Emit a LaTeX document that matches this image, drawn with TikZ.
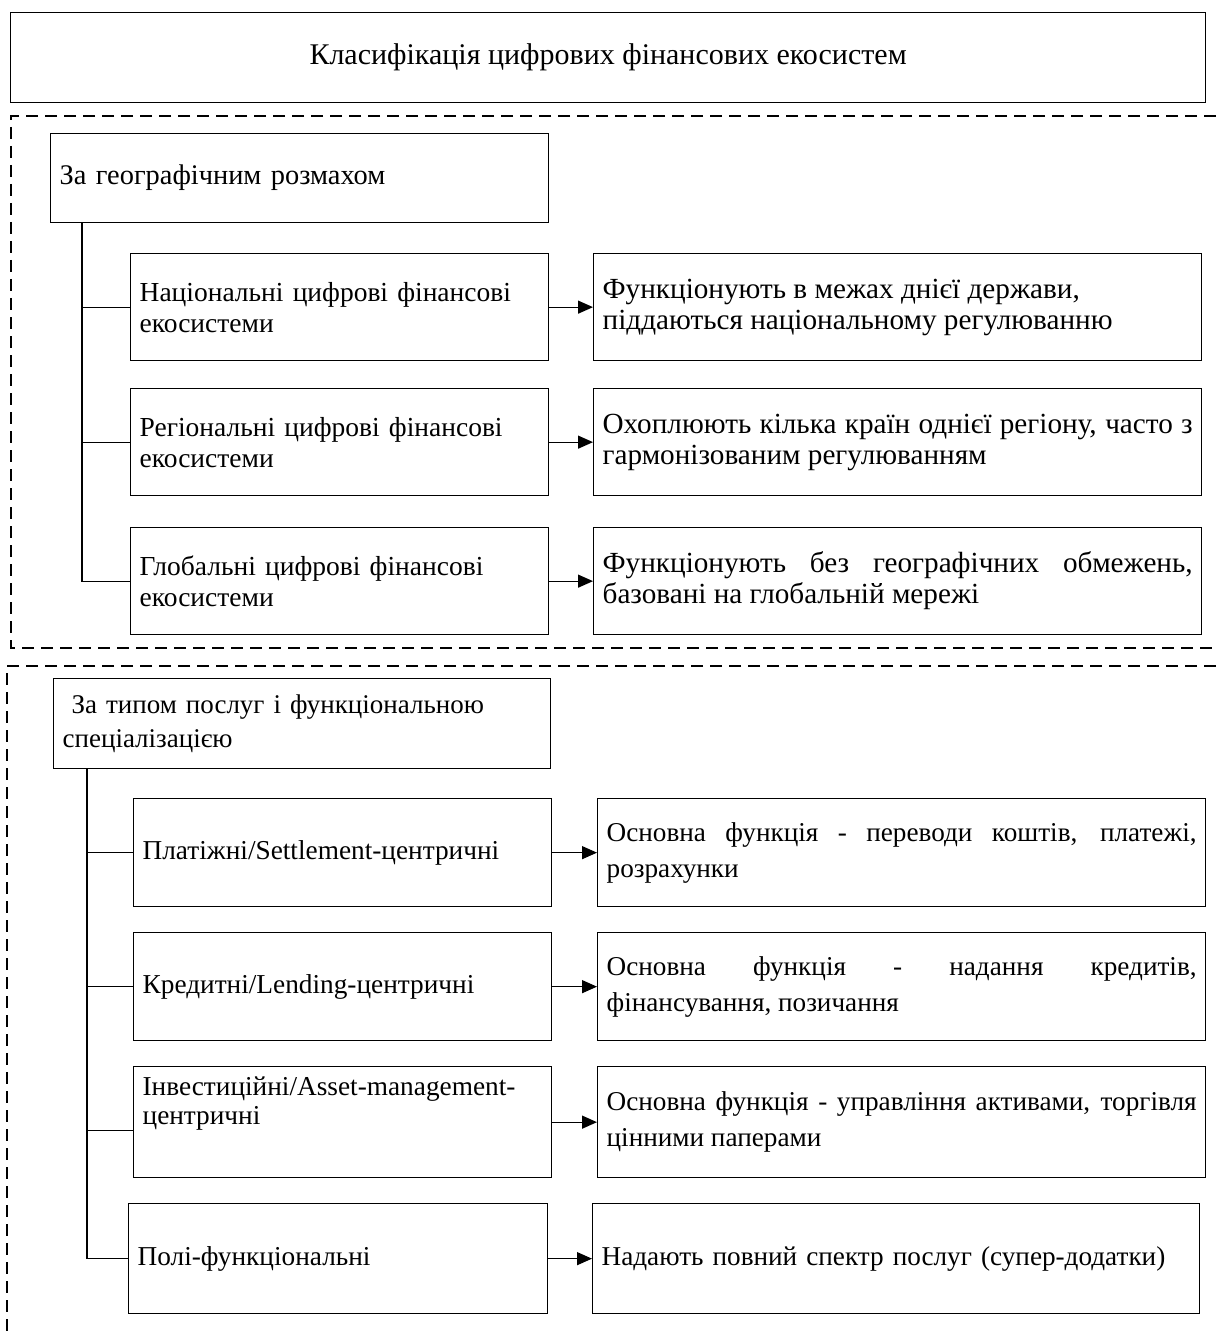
\documentclass[tikz,border=0pt]{standalone}
\usepackage{fontspec}
\setmainfont{Liberation Serif}
\usetikzlibrary{arrows.meta,calc}
\newcommand\ftitle{\fontsize{30}{34}\selectfont}
\newcommand\fheadA{\fontsize{28.4}{33}\selectfont}
\newcommand\fsubA{\fontsize{27.5}{31}\selectfont}
\newcommand\frightA{\fontsize{29.2}{31}\selectfont}
\newcommand\fheadB{\fontsize{27}{34}\selectfont}
\newcommand\fsubB{\fontsize{27.3}{29}\selectfont}
\newcommand\frightB{\fontsize{27.2}{36}\selectfont}
\begin{document}
\begin{tikzpicture}[x=1pt,y=-1pt,
  box/.style={draw, line width=1.3pt, anchor=north west, inner xsep=9pt, inner ysep=0pt},
  frame/.style={line width=1.2pt, dash pattern=on 12pt off 7pt},
  link/.style={line width=1.3pt},
  arr/.style={line width=1.3pt, -{Triangle[length=15pt,width=13pt]}}]
\useasboundingbox (0,0) rectangle (1216,1337);

% title
\node[box, minimum width=1195pt, minimum height=90pt, align=center, font=\ftitle] (title) at (10,12)
  {Класифікація цифрових фінансових екосистем};

% dashed group frames
\draw[frame] (1216,116) -- (11,116) -- (11,648) -- (1216,648);
\draw[frame] (1216,666) -- (7,666) -- (7,1337);

% ---------- group 1 ----------
\node[box, minimum width=498pt, minimum height=89pt, text width=480pt, align=left, font=\fheadA] (h1) at (50,133)
  {За географічним розмахом};

\node[box, minimum width=418pt, minimum height=107pt, text width=400pt, align=left, font=\fsubA] (s11) at (130,253)
  {Національні цифрові фінансові\\екосистеми};
\node[box, minimum width=418pt, minimum height=107pt, text width=400pt, align=left, font=\fsubA] (s12) at (130,388)
  {Регіональні цифрові фінансові\\екосистеми};
\node[box, minimum width=418pt, minimum height=107pt, text width=400pt, align=left, font=\fsubA] (s13) at (130,527)
  {Глобальні цифрові фінансові\\екосистеми};

\node[box, minimum width=608pt, minimum height=107pt, text width=590pt, align=justify, font=\frightA] (r11) at (593,253)
  {Функціонують в межах днієї держави,\\піддаються національному регулюванню};
\node[box, minimum width=608pt, minimum height=107pt, text width=590pt, align=justify, font=\frightA] (r12) at (593,388)
  {Охоплюють кілька країн однієї регіону, часто з\linebreak гармонізованим регулюванням};
\node[box, minimum width=608pt, minimum height=107pt, text width=590pt, align=justify, font=\frightA] (r13) at (593,527)
  {Функціонують без географічних обмежень,\linebreak базовані на глобальній мережі};

\coordinate (tr1) at ([xshift=32pt]h1.south west);
\draw[link] (tr1) |- (s13.west);
\draw[link] (s11.west) -- (s11.west -| tr1);
\draw[link] (s12.west) -- (s12.west -| tr1);
\draw[arr] (s11.east) -- (r11.west);
\draw[arr] (s12.east) -- (r12.west);
\draw[arr] (s13.east) -- (r13.west);

% ---------- group 2 ----------
\node[box, minimum width=497pt, minimum height=90pt, text width=479pt, align=left, font=\fheadB] (h2) at (53,678)
  {\ За типом послуг і функціональною\\спеціалізацією};

\node[box, minimum width=418pt, minimum height=108pt, text width=400pt, align=left, font=\fsubB] (s21) at (133,798)
  {Платіжні/Settlement-центричні};
\node[box, minimum width=418pt, minimum height=108pt, text width=400pt, align=left, font=\fsubB] (s22) at (133,932)
  {Кредитні/Lending-центричні};
\node[box, minimum width=418pt, minimum height=111pt, text width=400pt, align=left, font=\fsubB, text depth=72pt] (s23) at (133,1066)
  {Інвестиційні/Asset-management-\\центричні};
\node[box, minimum width=419pt, minimum height=110pt, text width=401pt, align=left, font=\fsubB] (s24) at (128,1203)
  {Полі-функціональні};

\node[box, minimum width=608pt, minimum height=108pt, text width=590pt, align=justify, font=\frightB] (r21) at (597,798)
  {Основна функція - переводи коштів, платежі,\linebreak розрахунки};
\node[box, minimum width=608pt, minimum height=108pt, text width=590pt, align=justify, font=\frightB] (r22) at (597,932)
  {Основна функція - надання кредитів,\linebreak фінансування, позичання};
\node[box, minimum width=608pt, minimum height=111pt, text width=590pt, align=justify, font=\frightB] (r23) at (597,1066)
  {Основна функція - управління активами, торгівля\linebreak цінними паперами};
\node[box, minimum width=607pt, minimum height=110pt, text width=589pt, align=left, font=\frightB] (r24) at (592,1203)
  {Надають повний спектр послуг (супер-додатки)};

\coordinate (tr2) at ([xshift=34pt]h2.south west);
\draw[link] (tr2) |- (s24.west);
\draw[link] (s21.west) -- (s21.west -| tr2);
\draw[link] (s22.west) -- (s22.west -| tr2);
\draw[link] ([yshift=-8pt]s23.west) -- ([yshift=-8pt]s23.west -| tr2);
\draw[arr] (s21.east) -- (r21.west);
\draw[arr] (s22.east) -- (r22.west);
\draw[arr] (s23.east) -- (r23.west);
\draw[arr] (s24.east) -- (r24.west);
\end{tikzpicture}
\end{document}
